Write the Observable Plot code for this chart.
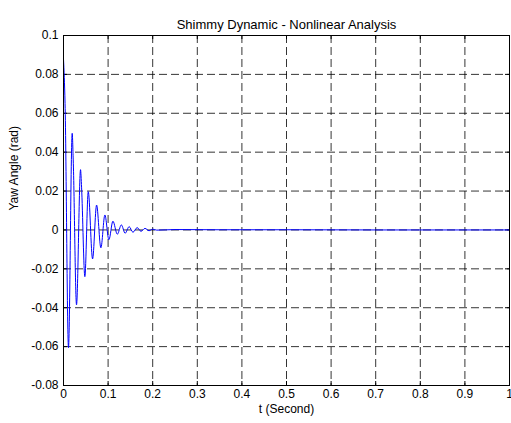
<!DOCTYPE html>
<html>
<head>
<meta charset="utf-8">
<script src="https://cdn.jsdelivr.net/npm/d3@7"></script>
<script src="https://cdn.jsdelivr.net/npm/@observablehq/plot@0.6"></script>
<style>
  html, body { margin: 0; padding: 0; background: white; }
</style>
</head>
<body>
<div id="chart"></div>
<script>
const title = "Shimmy Dynamic - Nonlinear Analysis";
const xLabel = "t (Second)";
const yLabel = "Yaw Angle (rad)";
const xTicks = [0, 0.1, 0.2, 0.3, 0.4, 0.5, 0.6, 0.7, 0.8, 0.9, 1];
const yTicks = [-0.08, -0.06, -0.04, -0.02, 0, 0.02, 0.04, 0.06, 0.08, 0.1];

const time = [0, 0.0035, 0.0112, 0.0195, 0.0218, 0.0292, 0.0382, 0.0405, 0.0479, 0.0555,
  0.0652, 0.0742, 0.0838, 0.0928, 0.1018, 0.1108, 0.1207, 0.1297, 0.1382, 0.1472,
  0.1557, 0.1652, 0.1737, 0.1827, 0.1917, 0.2, 0.209, 0.25, 0.35, 0.5, 0.7, 1.0];
const yaw = [0.088, 0.065, -0.0605, 0.0497, 0.036, -0.0385, 0.031, 0.022, -0.024, 0.0197,
  -0.0149, 0.0128, -0.0092, 0.0077, -0.005, 0.0045, -0.0022, 0.0026, -0.0017, 0.0017,
  -0.0012, 0.0012, -0.0007, 0.0008, -0.0004, 0.0004, -0.0001, 0.0002, 0.0001, 0.0001, 0.0, 0.0];

const data = time.map((t, i) => ({t, v: yaw[i]}));
const fmt = d => String(+d.toFixed(2));

const chart = Plot.plot({
  width: 511,
  height: 423,
  marginLeft: 63,
  marginRight: 2,
  marginTop: 35,
  marginBottom: 38,
  style: {fontFamily: "'Liberation Sans', Arial, sans-serif", fontSize: "12px", background: "white", color: "black", overflow: "visible"},
  x: {domain: [0, 1]},
  y: {domain: [-0.08, 0.1]},
  marks: [
    Plot.ruleX(xTicks.slice(1, -1), {stroke: "black", strokeWidth: 0.8, strokeDasharray: "8,4"}),
    Plot.ruleY(yTicks.slice(1, -1), {stroke: "black", strokeWidth: 0.8, strokeDasharray: "8,4"}),
    Plot.ruleX(xTicks, {stroke: "black", insetTop: 346}),
    Plot.ruleX(xTicks, {stroke: "black", insetBottom: 346}),
    Plot.ruleY(yTicks, {stroke: "black", insetRight: 442}),
    Plot.ruleY(yTicks, {stroke: "black", insetLeft: 442}),
    Plot.line(data, {x: "t", y: "v", stroke: "#0000ff", strokeWidth: 1, curve: "monotone-x"}),
    Plot.frame({stroke: "black", strokeWidth: 1}),
    Plot.axisX({ticks: xTicks, tickFormat: fmt, tickSize: 0, tickPadding: 4, label: null, fontSize: 12}),
    Plot.axisY({ticks: yTicks, tickFormat: fmt, tickSize: 0, tickPadding: 5, label: null, fontSize: 12}),
    Plot.text([title], {frameAnchor: "top", dy: -16, fontSize: 13}),
    Plot.text([xLabel], {frameAnchor: "bottom", dy: 27, fontSize: 12}),
    Plot.text([yLabel], {frameAnchor: "left", dx: -49, rotate: -90, fontSize: 12})
  ]
});
document.getElementById("chart").appendChild(chart);
</script>
</body>
</html>
